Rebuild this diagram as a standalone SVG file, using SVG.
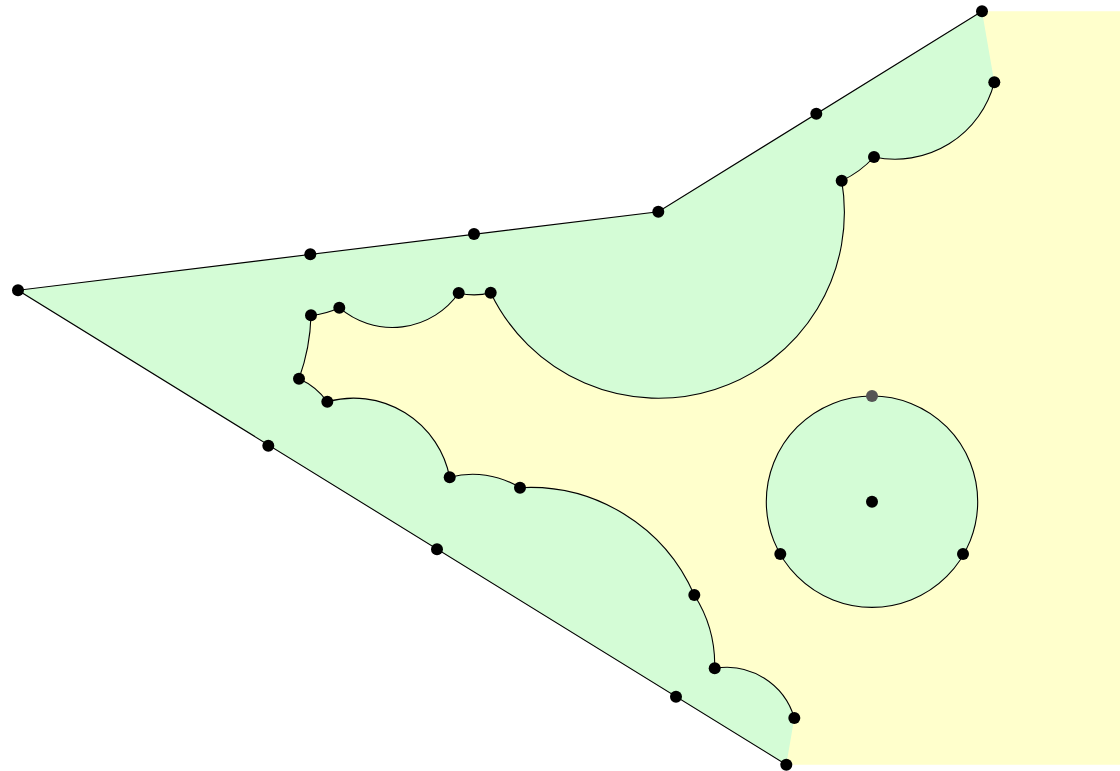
<svg xmlns="http://www.w3.org/2000/svg" width="1120" height="771" viewBox="0 0 1120 771">
<style>
.yellow{fill:#ffffcc;stroke:none}
.green{fill:#d4fcd6;stroke:none}
.edge{fill:none;stroke:#000;stroke-width:1.1}
.disk{fill:#d4fcd6;stroke:#000;stroke-width:1.1}
.pt{fill:#000}
.gpt{fill:#555}
</style>
<defs>
<circle id="dot" r="6"/>
</defs>
<rect width="1120" height="771" fill="#fff"/>
<g id="regions">
<path id="yellow-region" class="yellow" d="M982 11.3 L1120 11.3 L1120 764.7 L786.3 764.7 L18 290.3 L658.3 211.7 Z"/>
<path id="green-region" class="green" d="M18 290.3 L658.3 211.7 L982 11.3 L994.3 82.3 A102.5 102.5 0 0 1 874 157 A100 100 0 0 1 841.7 180.7 A186 186 0 0 1 490.7 292.7 A65 65 0 0 1 458.7 293 A81 81 0 0 1 339.3 307.7 A80 80 0 0 1 311 315.3 A200 200 0 0 1 299 378.7 A70 70 0 0 1 327.3 401.7 A98 98 0 0 1 449.7 477.3 A90 90 0 0 1 520 487.7 A179 179 0 0 1 694.3 595 A130 130 0 0 1 714.7 668.3 A70.6 70.6 0 0 1 794.3 718 L786.3 764.7 Z"/>
<circle id="disk" class="disk" cx="872" cy="501.7" r="105.7"/>
</g>
<g id="connectors">
<path class="edge" d="M786.3 764.7 L18 290.3 L658.3 211.7 L982 11.3"/>
<path class="edge" d="M994.3 82.3 A102.5 102.5 0 0 1 874 157 A100 100 0 0 1 841.7 180.7 A186 186 0 0 1 490.7 292.7 A65 65 0 0 1 458.7 293 A81 81 0 0 1 339.3 307.7 A80 80 0 0 1 311 315.3 A200 200 0 0 1 299 378.7 A70 70 0 0 1 327.3 401.7 A98 98 0 0 1 449.7 477.3 A90 90 0 0 1 520 487.7 A179 179 0 0 1 694.3 595 A130 130 0 0 1 714.7 668.3 A70.6 70.6 0 0 1 794.3 718"/>
</g>
<g id="n1"><use href="#dot" class="pt" x="18" y="290.3"/></g>
<g id="n2"><use href="#dot" class="pt" x="310.3" y="254.3"/></g>
<g id="n3"><use href="#dot" class="pt" x="474" y="234"/></g>
<g id="n4"><use href="#dot" class="pt" x="658.3" y="211.7"/></g>
<g id="n5"><use href="#dot" class="pt" x="816.3" y="113.7"/></g>
<g id="n6"><use href="#dot" class="pt" x="982" y="11.3"/></g>
<g id="n7"><use href="#dot" class="pt" x="994.3" y="82.3"/></g>
<g id="n8"><use href="#dot" class="pt" x="874" y="157"/></g>
<g id="n9"><use href="#dot" class="pt" x="841.7" y="180.7"/></g>
<g id="n10"><use href="#dot" class="pt" x="490.7" y="292.7"/></g>
<g id="n11"><use href="#dot" class="pt" x="458.7" y="293"/></g>
<g id="n12"><use href="#dot" class="pt" x="339.3" y="307.7"/></g>
<g id="n13"><use href="#dot" class="pt" x="311" y="315.3"/></g>
<g id="n14"><use href="#dot" class="pt" x="299" y="378.7"/></g>
<g id="n15"><use href="#dot" class="pt" x="327.3" y="401.7"/></g>
<g id="n16"><use href="#dot" class="pt" x="449.7" y="477.3"/></g>
<g id="n17"><use href="#dot" class="pt" x="520" y="487.7"/></g>
<g id="n18"><use href="#dot" class="pt" x="694.3" y="595"/></g>
<g id="n19"><use href="#dot" class="pt" x="714.7" y="668.3"/></g>
<g id="n20"><use href="#dot" class="pt" x="794.3" y="718"/></g>
<g id="n21"><use href="#dot" class="pt" x="786.3" y="764.7"/></g>
<g id="n22"><use href="#dot" class="pt" x="676" y="696.7"/></g>
<g id="n23"><use href="#dot" class="pt" x="437" y="549.3"/></g>
<g id="n24"><use href="#dot" class="pt" x="268.3" y="445.7"/></g>
<g id="n25"><use href="#dot" class="pt" x="872" y="501.7"/></g>
<g id="n26"><use href="#dot" class="pt" x="780.3" y="554"/></g>
<g id="n27"><use href="#dot" class="pt" x="963" y="554"/></g>
<g id="n28"><use href="#dot" class="gpt" x="872" y="396"/></g>
</svg>
